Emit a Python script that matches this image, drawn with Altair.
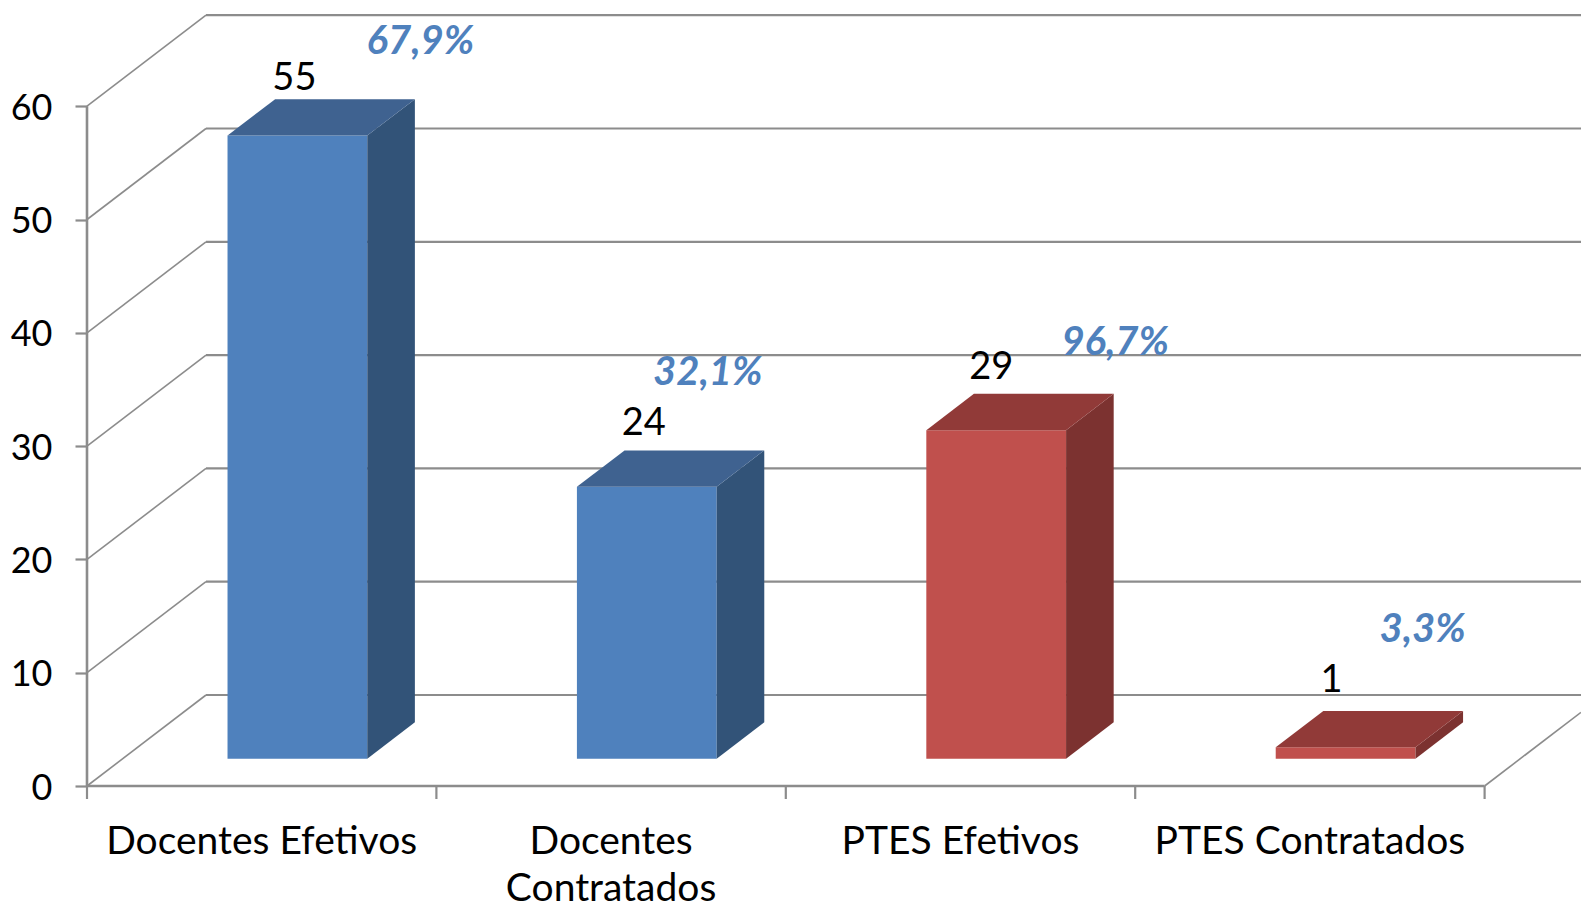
import altair as alt
import pandas as pd

categories = ["Docentes Efetivos", "Docentes\nContratados", "PTES Efetivos", "PTES Contratados"]
values = [55, 24, 29, 1]
percent_labels = ["67,9%", "32,1%", "96,7%", "3,3%"]
groups = ["blue", "blue", "red", "red"]
y_ticks = [0, 10, 20, 30, 40, 50, 60]

# ---- layout (page pixels) ----
PAGE_W, PAGE_H, M = 1581, 902, 8
ORIGIN_X, ORIGIN_Y = 87.0, 786.0
CAT_PX, UNIT_PX = 349.4, 11.33
DEPTH_PX_X, DEPTH_PX_Y = 119.0, 91.0
KX, KY = DEPTH_PX_X / CAT_PX, DEPTH_PX_Y / UNIT_PX
PLOT_W = PAGE_W - ORIGIN_X
PLOT_H = PAGE_H
X_MAX = PLOT_W / CAT_PX
Y_MAX = (ORIGIN_Y - M) / UNIT_PX
Y_MIN = (ORIGIN_Y - M - PLOT_H) / UNIT_PX
FRONT_D, BACK_D = 0.3, 0.7
BAR_W = 0.4
GRID = "#8c8c8c"
FONT_SIZE = 38
FACE = {"blue": ("#4F81BD", "#3F6290", "#325378"), "red": ("#C0504D", "#913A38", "#7C3230")}
VALUE_OFFSET = [(-3, 46), (-3, 52), (-5, 51), (-14, 55)]
PERCENT_OFFSET = [(123, 82), (61, 102), (119, 75), (77, 105)]


def sx(x, d=0.0):
    return x + d * KX


def sy(v, d=0.0):
    return v + d * KY


x_scale = alt.Scale(domain=[0, X_MAX], range=[0, PLOT_W], nice=False, zero=False)
y_scale = alt.Scale(domain=[Y_MIN, Y_MAX], range=[PLOT_H, 0], nice=False, zero=False)
y_axis = alt.Axis(
    values=y_ticks, domain=False, grid=False, ticks=True, tickColor=GRID, tickWidth=2.2, tickSize=12,
    labelFontSize=36, labelFont="Lato", labelColor="#000000", labelPadding=23, title=None, format="d",
    labelOverlap=False, labelBound=False, labelFlush=False, labelOffset=2,
)
X = alt.X("x:Q", scale=x_scale, axis=None)
Y = alt.Y("y:Q", scale=y_scale, axis=y_axis)

# ---- bar faces ----
faces = []
for i, (v, g) in enumerate(zip(values, groups)):
    x0 = i + 0.5 - BAR_W / 2
    x1 = i + 0.5 + BAR_W / 2
    front, top, side = FACE[g]
    a0, a1 = sx(x0, FRONT_D), sx(x1, FRONT_D)
    b0, b1 = sx(x0, BACK_D), sx(x1, BACK_D)
    yf, yb = sy(v, FRONT_D), sy(v, BACK_D)
    bf, bb = sy(0, FRONT_D), sy(0, BACK_D)
    for x, y, y2 in [(a0, yf, bf), (a1, yf, bf)]:
        faces.append(dict(k=f"{i}f", x=x, y=y, y2=y2, c=front))
    for x, y, y2 in [(a1, yf, bf), (b1, yb, bb)]:
        faces.append(dict(k=f"{i}s", x=x, y=y, y2=y2, c=side))
    for x, y, y2 in [(a0, yf, yf), (b0, yb, yf), (a1, yb, yf), (b1, yb, yb)]:
        faces.append(dict(k=f"{i}t", x=x, y=y, y2=y2, c=top))
faces = pd.DataFrame(faces)
bars = alt.Chart(faces).mark_area(interpolate="linear", line=False, opacity=1).encode(
    x=X, y=Y, y2="y2:Q", detail="k:N", fill=alt.Fill("c:N", scale=None)
)

# ---- wall and floor lines ----
lines = []
for v in y_ticks:
    lines.append(dict(k=f"w{v}", x=sx(0), y=sy(v), w=1.6))
    lines.append(dict(k=f"w{v}", x=sx(0, 1), y=sy(v, 1), w=1.6))
    lines.append(dict(k=f"g{v}", x=sx(0, 1), y=sy(v, 1), w=2.2))
    lines.append(dict(k=f"g{v}", x=X_MAX, y=sy(v, 1), w=2.2))
lines += [
    dict(k="left", x=0, y=0, w=2.6), dict(k="left", x=0, y=60, w=2.6),
    dict(k="axis", x=0, y=0, w=2.6), dict(k="axis", x=4, y=0, w=2.6),
    dict(k="floor", x=sx(4), y=0, w=1.6), dict(k="floor", x=X_MAX, y=sy(0, (X_MAX - 4) / KX), w=1.6),
]
for i in range(5):
    lines.append(dict(k=f"t{i}", x=i, y=0, w=2.2))
    lines.append(dict(k=f"t{i}", x=i, y=-13 / UNIT_PX, w=2.2))
lines = pd.DataFrame(lines)
wall = alt.Chart(lines).mark_line(color=GRID, interpolate="linear", clip=False).encode(
    x=alt.X("x:Q", scale=x_scale, axis=None, sort=None),
    y=Y,
    detail="k:N",
    strokeWidth=alt.StrokeWidth("w:Q", scale=None),
)

# ---- text ----
cat_df = pd.DataFrame({"x": [i + 0.5 for i in range(4)], "y": [(ORIGIN_Y - 853.5) / UNIT_PX] * 4, "t": categories})
cat_text = alt.Chart(cat_df).mark_text(
    font="Lato", fontSize=39, lineBreak="\n", lineHeight=47, align="center", baseline="alphabetic", color="#000000"
).encode(x=X, y=Y, text="t:N")

val_rows, pct_rows = [], []
for i, v in enumerate(values):
    cx = sx(i + 0.5, FRONT_D)
    top = sy(v, FRONT_D)
    dx, up = VALUE_OFFSET[i]
    val_rows.append(dict(x=cx + dx / CAT_PX, y=top + up / UNIT_PX, t=str(v)))
    dx, up = PERCENT_OFFSET[i]
    pct_rows.append(dict(x=cx + dx / CAT_PX, y=top + up / UNIT_PX, t=percent_labels[i]))
val_text = alt.Chart(pd.DataFrame(val_rows)).mark_text(
    font="Lato", fontSize=FONT_SIZE, align="center", baseline="alphabetic", color="#000000"
).encode(x=X, y=Y, text="t:N")
pct_text = alt.Chart(pd.DataFrame(pct_rows)).mark_text(
    font="Lato", fontSize=40, fontWeight="bold", fontStyle="italic", align="center", baseline="alphabetic", color="#4F81BD"
).encode(x=X, y=Y, text="t:N")

chart = alt.layer(wall, bars, cat_text, val_text, pct_text).properties(
    width=PLOT_W, height=PLOT_H,
    autosize=alt.AutoSizeParams(type="none"),
    padding={"left": ORIGIN_X - M, "top": 0, "right": 0, "bottom": 0},
    background="#ffffff",
).configure_view(stroke=None)

chart.save("out.html", embed_options={"renderer": "svg", "actions": False})
